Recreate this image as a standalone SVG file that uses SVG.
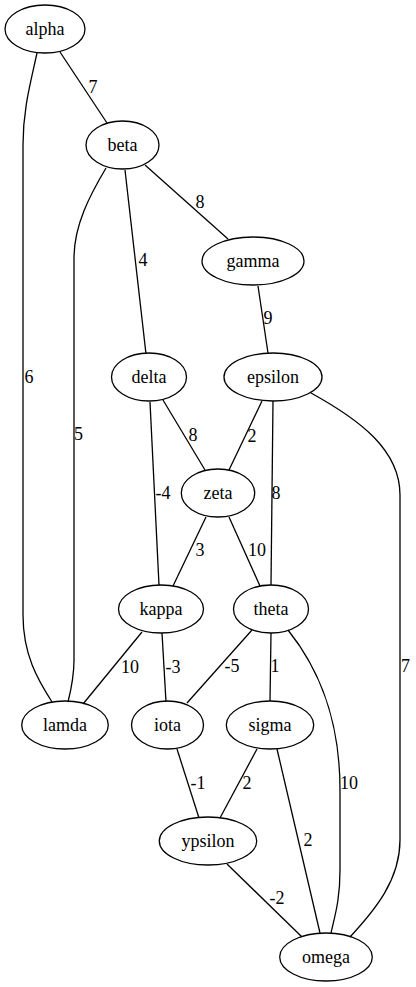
<svg xmlns="http://www.w3.org/2000/svg" width="416" height="987" viewBox="0 0 416 987" font-family="'Liberation Serif', 'Times New Roman', Times, serif">
<style>
.n ellipse{fill:none;stroke:#000;stroke-width:1.3}
text{font-family:'Liberation Serif','Times New Roman',Times,serif;font-size:18px;text-anchor:middle;fill:#000}
.e path{fill:none;stroke:#000;stroke-width:1.3}
</style>
<rect width="416" height="987" fill="#fff"/>
<g id="edges" class="e">
<path d="M60,52 L107,123"/>
<path d="M37,53 C30,85 23,110 23,145 L23,615 C23,655 38,680 52,702"/>
<path d="M106,168 C90,195 74,225 74,258 L74,660 C74,675 71,690 68,702"/>
<path d="M125,170 L146,354"/>
<path d="M145,165 L228,239"/>
<path d="M258,286 L268,353"/>
<path d="M163,400 L205,470"/>
<path d="M262,401 L229,470"/>
<path d="M150,402 L159,585"/>
<path d="M273,401 L271,585"/>
<path d="M311,393 C360,420 400,450 400,495 L400,840 C400,880 375,910 350,937"/>
<path d="M206,517 L173,586"/>
<path d="M229,517 L260,586"/>
<path d="M142,632 L83,704"/>
<path d="M162,633 L166,702"/>
<path d="M252,630 L187,703"/>
<path d="M271,633 L270,701"/>
<path d="M288,630 C320,670 340,720 340,790 L340,870 C340,900 335,915 331,933"/>
<path d="M257,749 L220,818"/>
<path d="M277,749 L320,933"/>
<path d="M177,749 L199,818"/>
<path d="M227,864 L302,937"/>
<text x="93" y="93">7</text>
<text x="29" y="383">6</text>
<text x="78.5" y="440">5</text>
<text x="143" y="266">4</text>
<text x="200" y="208">8</text>
<text x="268" y="324">9</text>
<text x="193" y="441">8</text>
<text x="252" y="442">2</text>
<text x="163" y="499">-4</text>
<text x="276" y="499">8</text>
<text x="405.5" y="672">7</text>
<text x="200" y="556">3</text>
<text x="257" y="556">10</text>
<text x="130" y="673">10</text>
<text x="173" y="673">-3</text>
<text x="232" y="672">-5</text>
<text x="275" y="672">1</text>
<text x="349" y="789">10</text>
<text x="247" y="789">2</text>
<text x="308" y="846">2</text>
<text x="198" y="789">-1</text>
<text x="277" y="904">-2</text>
</g>
<g id="alpha" class="n"><ellipse cx="45" cy="29" rx="40" ry="24"/><text x="45" y="35">alpha</text></g>
<g id="beta" class="n"><ellipse cx="122.5" cy="145" rx="36.5" ry="24"/><text x="122.5" y="151">beta</text></g>
<g id="gamma" class="n"><ellipse cx="253" cy="261" rx="51" ry="24"/><text x="253" y="267">gamma</text></g>
<g id="delta" class="n"><ellipse cx="149" cy="377" rx="37.5" ry="24"/><text x="149" y="383">delta</text></g>
<g id="epsilon" class="n"><ellipse cx="273" cy="377" rx="49" ry="24"/><text x="273" y="383">epsilon</text></g>
<g id="zeta" class="n"><ellipse cx="218" cy="493" rx="36.7" ry="24"/><text x="218" y="499">zeta</text></g>
<g id="kappa" class="n"><ellipse cx="161" cy="609" rx="42.5" ry="24"/><text x="161" y="615">kappa</text></g>
<g id="theta" class="n"><ellipse cx="271" cy="609" rx="37.5" ry="24"/><text x="271" y="615">theta</text></g>
<g id="lamda" class="n"><ellipse cx="65" cy="725" rx="43.3" ry="24"/><text x="65" y="731">lamda</text></g>
<g id="iota" class="n"><ellipse cx="167.5" cy="725" rx="36" ry="24"/><text x="167.5" y="731">iota</text></g>
<g id="sigma" class="n"><ellipse cx="270" cy="725" rx="43.7" ry="24"/><text x="270" y="731">sigma</text></g>
<g id="ypsilon" class="n"><ellipse cx="208" cy="841" rx="48.7" ry="24"/><text x="208" y="847">ypsilon</text></g>
<g id="omega" class="n"><ellipse cx="326" cy="957" rx="46.3" ry="24"/><text x="326" y="963">omega</text></g>
</svg>
